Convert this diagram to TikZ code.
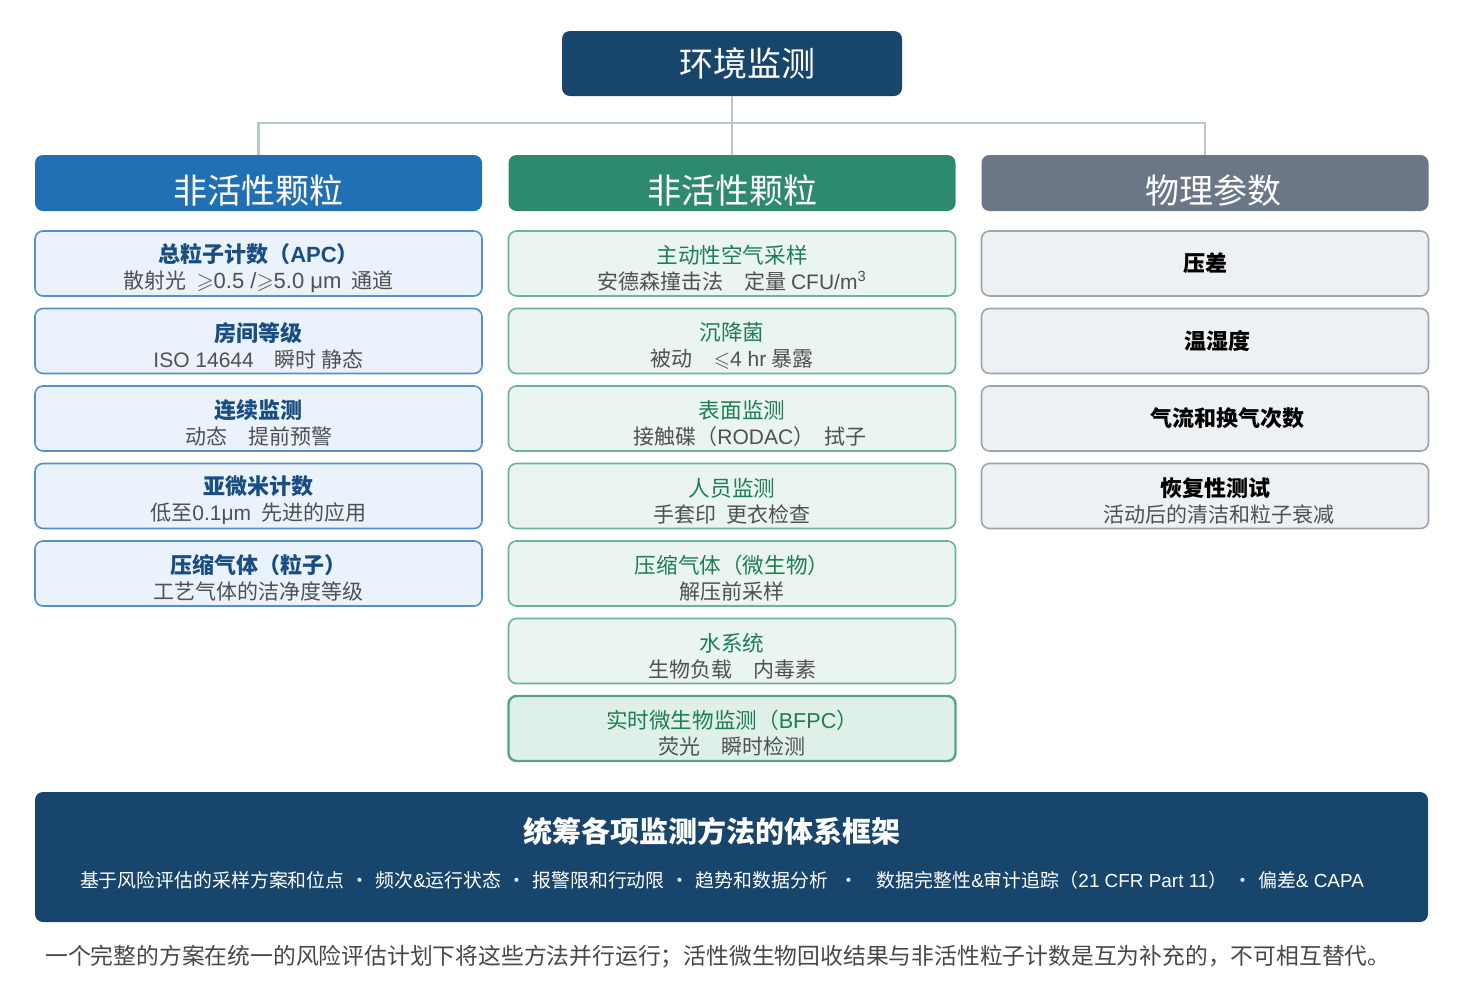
\documentclass[tikz,border=0pt]{standalone}
\usepackage{amssymb}
\usepackage{fontspec}
\setmainfont{Noto Sans CJK SC}
\newfontfamily\latfont{Liberation Sans}
\definecolor{navy}{HTML}{17456B}
\definecolor{headblue}{HTML}{2170B6}
\definecolor{headgreen}{HTML}{2E8A6E}
\definecolor{headgray}{HTML}{6B7787}
\definecolor{linkgray}{HTML}{B9C5CF}
\definecolor{bluefill}{HTML}{EAF2FB}
\definecolor{blueline}{HTML}{5690CC}
\definecolor{bluetext}{HTML}{1A4E80}
\definecolor{greenfill}{HTML}{EAF4F0}
\definecolor{greenfilldark}{HTML}{DFF0E9}
\definecolor{greenline}{HTML}{6DB39A}
\definecolor{greentext}{HTML}{1E7D55}
\definecolor{grayfill}{HTML}{EEF1F4}
\definecolor{grayline}{HTML}{9CA5AF}
\definecolor{subgray}{HTML}{505050}
\definecolor{notegray}{HTML}{474747}
\newcommand\en[1]{{\latfont #1}}
\newcommand\topgap{\rule{0pt}{14pt}}
\newcommand\bluetitle[1]{{\topgap\fontsize{11}{13}\selectfont\color{bluetext}\bfseries #1}}
\newcommand\greentitle[1]{{\topgap\fontsize{10.8}{13}\selectfont\color{greentext}#1}}
\newcommand\graytitle[1]{{\fontsize{11}{13}\selectfont\color{black}\bfseries #1}}

\begin{document}
\begin{tikzpicture}[x=0.5pt, y=-0.5pt, node distance=38.75pt,
  box/.style={rounded corners=4pt, inner sep=0pt, align=center},
  topbox/.style={box, fill=navy, text=white, minimum width=170pt, minimum height=32.5pt, font=\fontsize{17}{20}\selectfont},
  headbox/.style={box, text=white, minimum width=223.5pt, minimum height=28pt, text height=20pt, text depth=0pt, font=\fontsize{17}{20}\selectfont},
  card/.style={box, minimum width=223.5pt, minimum height=32.5pt, line width=0.8pt, text=subgray, font=\fontsize{10.5}{13}\selectfont},
  bluecard/.style={card, draw=blueline, fill=bluefill},
  greencard/.style={card, draw=greenline, fill=greenfill},
  graycard/.style={card, draw=grayline, fill=grayfill},
  link/.style={draw=linkgray, line width=1.2pt}
]
\useasboundingbox (0,0) rectangle (1472,992);

% top and column heads
\node (env)[topbox] at (732,63.5) {\hspace*{15pt}环境监测};
\node (nvp)[headbox, fill=headblue] at (258.5,183) {非活性颗粒};
\node (vp)[headbox, fill=headgreen] at (732,183) {非活性颗粒};
\node (phys)[headbox, fill=headgray] at (1205,183) {\hspace*{8pt}物理参数};
\coordinate (bus) at (732,123);
\draw[link] (env) -- (vp);
\draw[link] (nvp) |- (bus) -| (phys);

% left column
\node (n1)[bluecard] at (258.5,263.5) {\bluetitle{总粒子计数（\en{APC}）}\\散射光\enspace\en{\fontsize{11}{13}\selectfont$\geqslant$0.5 /$\geqslant$5.0 μm}\enspace 通道};
\node (n2)[bluecard] [below of = n1] {\bluetitle{房间等级}\\\en{ISO 14644}\quad 瞬时 静态};
\node (n3)[bluecard] [below of = n2] {\bluetitle{连续监测}\\动态\quad 提前预警};
\node (n4)[bluecard] [below of = n3] {\bluetitle{亚微米计数}\\低至\en{0.1μm}\enspace 先进的应用};
\node (n5)[bluecard] [below of = n4] {\bluetitle{压缩气体（粒子）}\\工艺气体的洁净度等级};

% middle column
\node (v1)[greencard] at (732,263.5) {\greentitle{主动性空气采样}\\安德森撞击法\quad 定量 \en{CFU/m\textsuperscript{3}}};
\node (v2)[greencard] [below of = v1] {\greentitle{沉降菌}\\被动\quad\en{$\leqslant$4 hr} 暴露};
\node (v3)[greencard] [below of = v2] {\hspace*{10pt}\greentitle{表面监测}\\\hspace*{18pt}接触碟（\en{RODAC}）\enspace 拭子};
\node (v4)[greencard] [below of = v3] {\greentitle{人员监测}\\手套印\enspace 更衣检查};
\node (v5)[greencard] [below of = v4] {\greentitle{压缩气体（微生物）}\\解压前采样};
\node (v6)[greencard] [below of = v5] {\greentitle{水系统}\\生物负载\quad 内毒素};
\node (v7)[greencard, fill=greenfilldark, draw=headgreen!80, line width=1.2pt] [below of = v6] {\greentitle{实时微生物监测（\en{BFPC}）}\\荧光\quad 瞬时检测};

% right column
\node (p1)[graycard] at (1205,263.5) {\graytitle{压差}};
\node (p2)[graycard] [below of = p1] {\hspace*{12pt}\graytitle{温湿度}};
\node (p3)[graycard] [below of = p2] {\hspace*{22pt}\graytitle{气流和换气次数}};
\node (p4)[graycard] [below of = p3] {\hspace*{10pt}\topgap\graytitle{恢复性测试}\\\hspace*{14pt}活动后的清洁和粒子衰减};

% framework
\node (frame)[box, fill=navy, minimum width=696.5pt, minimum height=65pt] at (731.5,857) {};
\node (ftitle)[text=white, font=\fontsize{14.5}{17}\selectfont\bfseries] at (712,831) {统筹各项监测方法的体系框架};
\node (fitems)[text=white, font=\fontsize{9.45}{11}\selectfont] at (722,880) {基于风险评估的采样方案和位点\hspace{3pt}·\hspace{3pt}频次\en{\&}运行状态\hspace{3pt}·\hspace{3pt}报警限和行动限\hspace{3pt}·\hspace{3pt}趋势和数据分析\hspace{6pt}·\hspace{9pt}数据完整性\en{\&}审计追踪（\en{21 CFR Part 11}）\hspace{3pt}·\hspace{3pt}偏差\en{\& CAPA}};

% footnote
\node (note)[anchor=west, inner sep=0pt, text=notegray, font=\fontsize{11.4}{13}\selectfont] at (45,957) {一个完整的方案在统一的风险评估计划下将这些方法并行运行；活性微生物回收结果与非活性粒子计数是互为补充的，不可相互替代。};
\end{tikzpicture}
\end{document}
